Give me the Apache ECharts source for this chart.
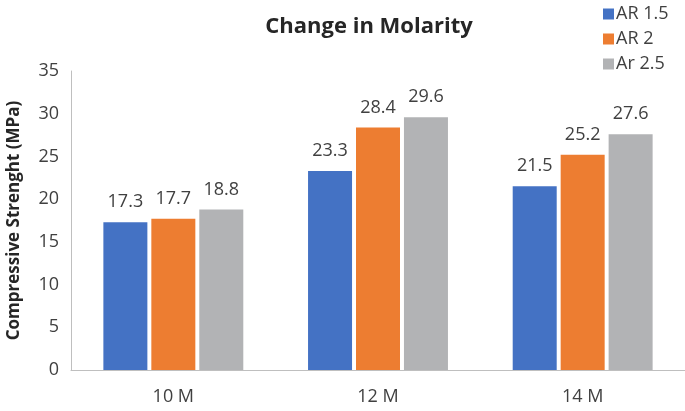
<!DOCTYPE html>
<html><head><meta charset="utf-8">
<script src="https://cdn.jsdelivr.net/npm/echarts@6/dist/echarts.min.js"></script>
<style>html,body{margin:0;padding:0;background:#fff}#c{width:685px;height:411px}</style>
</head><body><div id="c"></div>
<script>
const categories = ['10 M', '12 M', '14 M'];
const seriesNames = ['AR 1.5', 'AR 2', 'Ar 2.5'];
const ar15 = [17.3, 23.3, 21.5];
const ar2 = [17.7, 28.4, 25.2];
const ar25 = [18.8, 29.6, 27.6];
const yTicks = [0, 5, 10, 15, 20, 25, 30, 35];
const colors = ['#4472C4', '#ED7D31', '#B2B3B5'];
const font = 'Open Sans, Calibri, Carlito, sans-serif';
const chart = echarts.init(document.getElementById('c'));
const mk = (name, data, i) => ({
  name, type: 'bar', data, barWidth: 44, barGap: '9%',
  itemStyle: { color: colors[i] },
  label: { show: true, position: 'top', distance: 11, color: '#404040', fontSize: 18, fontFamily: font }
});
chart.setOption({
  animation: false,
  color: colors,
  title: { text: 'Change in Molarity', left: 364, top: 11, textAlign: 'center',
    textStyle: { fontSize: 22, fontWeight: 'bold', color: '#262626', fontFamily: font } },
  legend: { orient: 'vertical', left: 598, top: 0, itemWidth: 11, itemHeight: 11, itemGap: 7,
    textStyle: { fontSize: 18, color: '#404040', fontFamily: font, padding: [0, 0, 0, -3] }, icon: 'rect', data: seriesNames },
  grid: { left: 71, right: 0, top: 71, bottom: 41, containLabel: false, outerBoundsMode: 'none' },
  xAxis: { type: 'category', data: categories,
    axisLine: { lineStyle: { color: '#BFBFBF', width: 1 } }, axisTick: { show: false },
    axisLabel: { fontSize: 18, color: '#404040', fontFamily: font, margin: 18 } },
  yAxis: { type: 'value', min: yTicks[0], max: yTicks[yTicks.length - 1], interval: 5,
    name: 'Compressive Strenght (MPa)', nameLocation: 'middle', nameGap: 48,
    nameTextStyle: { fontSize: 17, fontWeight: 'bold', color: '#262626', fontFamily: font },
    axisLine: { show: true, lineStyle: { color: '#BFBFBF' } }, axisTick: { show: false },
    splitLine: { show: false },
    axisLabel: { fontSize: 18, color: '#404040', fontFamily: font, margin: 12 } },
  series: [mk(seriesNames[0], ar15, 0), mk(seriesNames[1], ar2, 1), mk(seriesNames[2], ar25, 2)]
});
</script></body></html>
